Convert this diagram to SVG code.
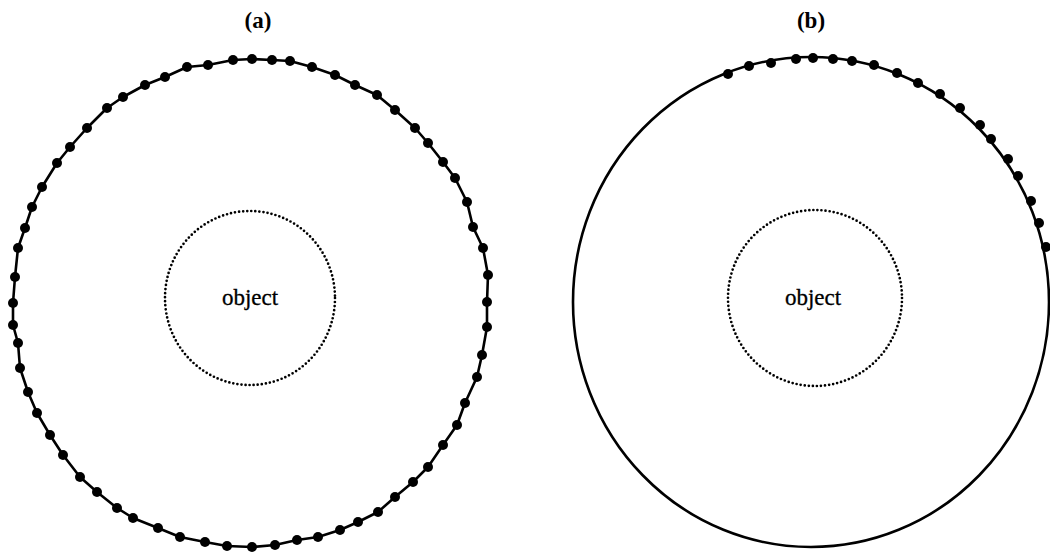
<svg xmlns="http://www.w3.org/2000/svg" width="1050" height="555" viewBox="0 0 1050 555">
<style>
.ring{fill:none;stroke:#000;stroke-width:2.6;stroke-linejoin:round}
.obj{fill:none;stroke:#000;stroke-width:2.7;stroke-linecap:round;stroke-dasharray:0 4.1}
.dot{fill:#000}
.lbl{font-family:"Liberation Serif","Times New Roman",serif;font-size:23px;font-weight:bold;text-anchor:middle;fill:#000}
.txt{font-family:"Liberation Serif","Times New Roman",serif;font-size:23px;text-anchor:middle;fill:#000;stroke:#000;stroke-width:0.3}
</style>
<rect width="1050" height="555" fill="#fff"/>
<g id="panel-a">
<text class="lbl" x="258" y="28">(a)</text>
<polygon class="ring" points="15,277 18,248 25,228 32,207 42,187 57,163 70,147 87,128 107,108 123,97 145,85 165,77 187,67 208,65 233,60 252,59 272,60 290,61 312,67 335,75 355,85 377,95 395,110 415,128 428,143 443,162 455,178 467,202 473,227 483,248 488,275 487,302 487,327 482,355 477,377 465,403 457,425 443,445 428,467 413,482 395,497 378,512 358,522 340,530 318,537 297,540 275,545 252,547 227,546 205,542 180,537 158,528 133,518 117,508 97,492 80,477 63,455 50,435 37,413 28,392 20,368 18,343 13,325 13,303"/>
<g class="dot">
<circle cx="15" cy="277" r="5"/><circle cx="18" cy="248" r="5"/><circle cx="25" cy="228" r="5"/><circle cx="32" cy="207" r="5"/><circle cx="42" cy="187" r="5"/><circle cx="57" cy="163" r="5"/><circle cx="70" cy="147" r="5"/><circle cx="87" cy="128" r="5"/><circle cx="107" cy="108" r="5"/><circle cx="123" cy="97" r="5"/><circle cx="145" cy="85" r="5"/><circle cx="165" cy="77" r="5"/><circle cx="187" cy="67" r="5"/><circle cx="208" cy="65" r="5"/><circle cx="233" cy="60" r="5"/><circle cx="252" cy="59" r="5"/><circle cx="272" cy="60" r="5"/><circle cx="290" cy="61" r="5"/><circle cx="312" cy="67" r="5"/><circle cx="335" cy="75" r="5"/><circle cx="355" cy="85" r="5"/><circle cx="377" cy="95" r="5"/><circle cx="395" cy="110" r="5"/><circle cx="415" cy="128" r="5"/><circle cx="428" cy="143" r="5"/><circle cx="443" cy="162" r="5"/><circle cx="455" cy="178" r="5"/><circle cx="467" cy="202" r="5"/><circle cx="473" cy="227" r="5"/><circle cx="483" cy="248" r="5"/><circle cx="488" cy="275" r="5"/><circle cx="487" cy="302" r="5"/><circle cx="487" cy="327" r="5"/><circle cx="482" cy="355" r="5"/><circle cx="477" cy="377" r="5"/><circle cx="465" cy="403" r="5"/><circle cx="457" cy="425" r="5"/><circle cx="443" cy="445" r="5"/><circle cx="428" cy="467" r="5"/><circle cx="413" cy="482" r="5"/><circle cx="395" cy="497" r="5"/><circle cx="378" cy="512" r="5"/><circle cx="358" cy="522" r="5"/><circle cx="340" cy="530" r="5"/><circle cx="318" cy="537" r="5"/><circle cx="297" cy="540" r="5"/><circle cx="275" cy="545" r="5"/><circle cx="252" cy="547" r="5"/><circle cx="227" cy="546" r="5"/><circle cx="205" cy="542" r="5"/><circle cx="180" cy="537" r="5"/><circle cx="158" cy="528" r="5"/><circle cx="133" cy="518" r="5"/><circle cx="117" cy="508" r="5"/><circle cx="97" cy="492" r="5"/><circle cx="80" cy="477" r="5"/><circle cx="63" cy="455" r="5"/><circle cx="50" cy="435" r="5"/><circle cx="37" cy="413" r="5"/><circle cx="28" cy="392" r="5"/><circle cx="20" cy="368" r="5"/><circle cx="18" cy="343" r="5"/><circle cx="13" cy="325" r="5"/><circle cx="13" cy="303" r="5"/>
</g>
<g id="object-a">
<ellipse class="obj" cx="250" cy="298" rx="85" ry="87"/>
<text class="txt" x="250" y="305">object</text>
</g>
</g>
<g id="panel-b">
<text class="lbl" x="811" y="28">(b)</text>
<ellipse class="ring" cx="811" cy="302" rx="238" ry="245"/>
<g class="dot">
<circle cx="728" cy="74" r="5"/><circle cx="749" cy="66" r="5"/><circle cx="771" cy="63" r="5"/><circle cx="796" cy="59" r="5"/><circle cx="813" cy="58" r="5"/><circle cx="833" cy="59" r="5"/><circle cx="852" cy="61" r="5"/><circle cx="874" cy="65" r="5"/><circle cx="897" cy="73" r="5"/><circle cx="918" cy="83" r="5"/><circle cx="940" cy="94" r="5"/><circle cx="960" cy="108" r="5"/><circle cx="980" cy="125" r="5"/><circle cx="991" cy="139" r="5"/><circle cx="1008" cy="159" r="5"/><circle cx="1018" cy="176" r="5"/><circle cx="1031" cy="201" r="5"/><circle cx="1039" cy="223" r="5"/><circle cx="1046" cy="247" r="5"/>
</g>
<g id="object-b">
<ellipse class="obj" cx="815" cy="298" rx="87" ry="88"/>
<text class="txt" x="813" y="305">object</text>
</g>
</g>
</svg>
